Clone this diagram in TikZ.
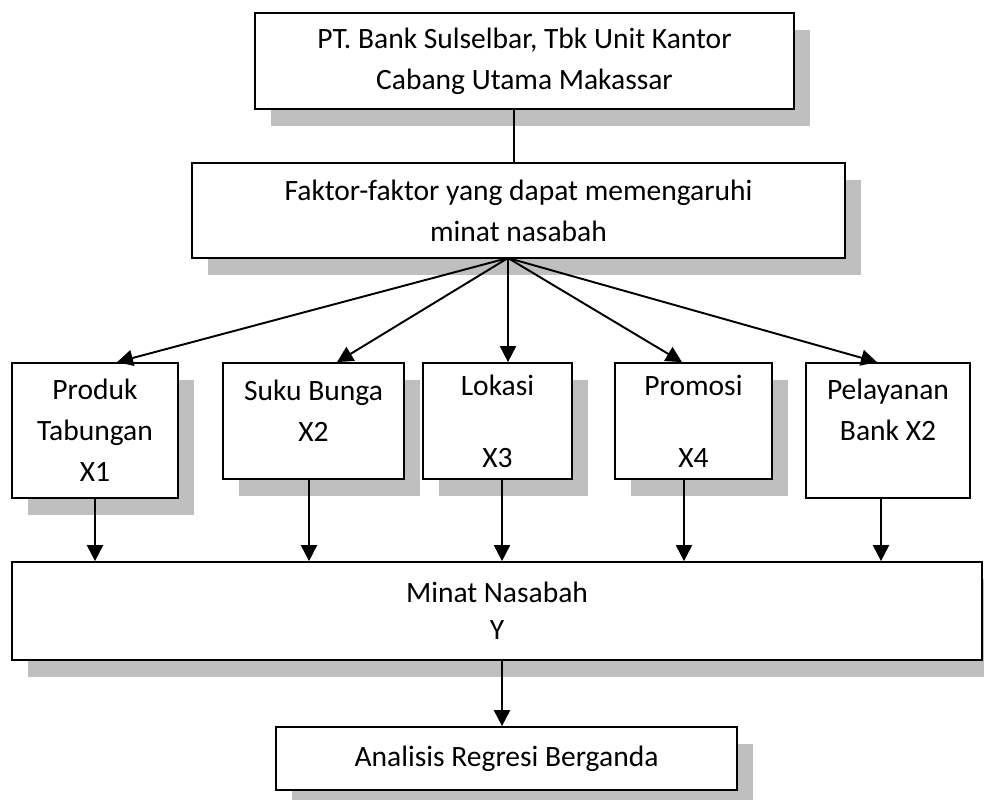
\documentclass[tikz,border=0pt]{standalone}
\usepackage{fontspec}
\setmainfont{Carlito}
\usetikzlibrary{arrows.meta,shadows}

\begin{document}
\begin{tikzpicture}[x=0.02cm,y=-0.02cm, every node/.style={font=\fontsize{16.8}{23.2}\selectfont}, card/.style={draw,line width=1pt,fill=white,align=center,inner sep=0pt}, shd/.style={drop shadow={shadow xshift=0.32cm,shadow yshift=-0.34cm,fill=black!25,opacity=1}}, arr/.style={-{Triangle[length=3.2mm,width=3.2mm]},line width=1.1pt}, link/.style={line width=1.1pt}]
\useasboundingbox (0,0) rectangle (984,799);
\clip (0,0) rectangle (984,799);
\node[card,shd,minimum width=10.78cm,minimum height=1.92cm] (bank) at (524.5,61) {PT. Bank Sulselbar, Tbk Unit Kantor\\Cabang Utama Makassar};
\node[card,shd,minimum width=13.06cm,minimum height=1.90cm] (faktor) at (518.5,210.5) {Faktor-faktor yang dapat memengaruhi\\minat nasabah};
\coordinate (hub) at (508,258);
% variabel X
\node[card,shd,minimum width=3.32cm,minimum height=2.70cm] (produk) at (95,430.5) {Produk\\Tabungan\\X1};
\node[card,shd,minimum width=3.62cm,minimum height=2.32cm] (suku) at (313.5,421) {Suku Bunga\\X2\\[-0.4cm]~};
\node[card,shd,minimum width=2.98cm,minimum height=2.32cm] (lokasi) at (497.5,421) {Lokasi\\[0.62cm]X3};
\node[card,shd,minimum width=3.14cm,minimum height=2.32cm] (promosi) at (693.5,421) {Promosi\\[0.62cm]X4};
\node[card,minimum width=3.28cm,minimum height=2.70cm] (pelayanan) at (888,430.5) {Pelayanan\\Bank X2\\~};
% variabel Y
\node[card,shd,minimum width=19.40cm,minimum height=1.96cm] (minat) at (497,611) {Minat Nasabah\\[-0.08cm]Y};
\node[card,shd,minimum width=9.22cm,minimum height=1.26cm] (analisis) at (506.5,758.5) {Analisis Regresi Berganda};
\draw[link] ([xshift=-0.21cm]bank.south) -- ([xshift=-0.21cm]bank.south |- faktor.north);
\draw[arr] (hub) -- ([xshift=0.44cm]produk.north); \draw[arr] (hub) -- ([xshift=0.47cm]suku.north); \draw[arr] (hub) -- ([xshift=0.21cm]lokasi.north); \draw[arr] (hub) -- ([xshift=-0.23cm]promosi.north); \draw[arr] (hub) -- ([xshift=-0.22cm]pelayanan.north);
\draw[arr] (produk.south) -- (produk.south |- minat.north);
\draw[arr] ([xshift=-0.09cm]suku.south) -- ([xshift=-0.09cm]suku.south |- minat.north);
\draw[arr] ([xshift=0.09cm]lokasi.south) -- ([xshift=0.09cm]lokasi.south |- minat.north);
\draw[arr] ([xshift=-0.19cm]promosi.south) -- ([xshift=-0.19cm]promosi.south |- minat.north);
\draw[arr] ([xshift=-0.14cm]pelayanan.south) -- ([xshift=-0.14cm]pelayanan.south |- minat.north);
\draw[arr] ([xshift=0.1cm]minat.south) -- ([xshift=0.1cm]minat.south |- analisis.north);
\end{tikzpicture}
\end{document}
